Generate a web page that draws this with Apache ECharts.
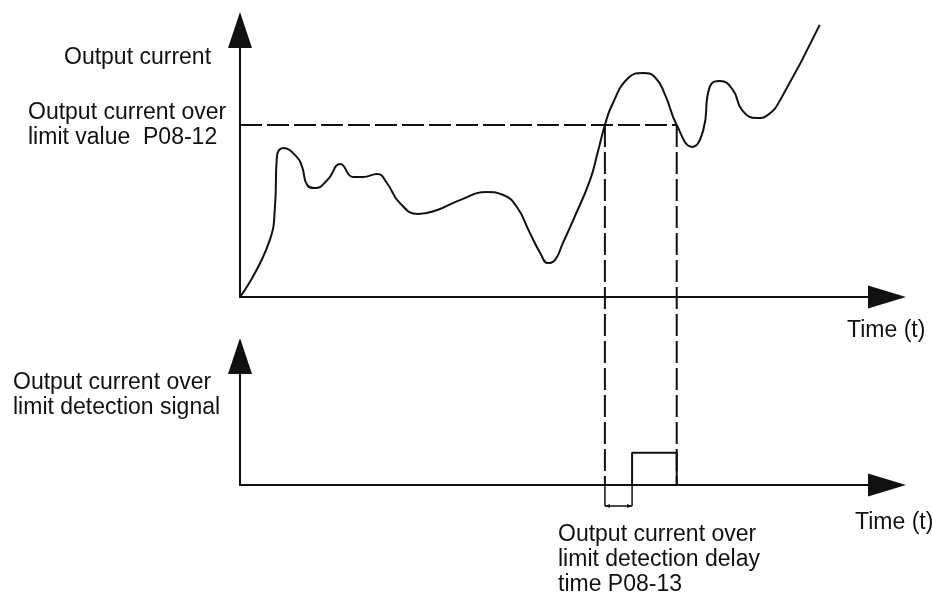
<!DOCTYPE html>
<html>
<head>
<meta charset="utf-8">
<script src="https://cdn.jsdelivr.net/npm/echarts@6/dist/echarts.min.js"></script>
<style>
  html, body { margin: 0; padding: 0; background: #fff; }
  #chart { width: 933px; height: 598px; }
</style>
</head>
<body>
<div id="chart"></div>
<script>
// Output current over time (arbitrary units, 0-100 on both axes)
const currentTime = [0, 4.6, 5.4, 5.7, 6.7, 8.8, 9.6, 10.4, 11.6, 13.5, 15.5, 17.5, 19.0, 21.2, 22.7, 24.7, 27.5, 30.5, 34.0, 38.2, 40.7, 42.8, 44.8, 46.4, 47.6, 48.7, 49.9, 51.5, 54.1, 55.3, 56.4, 57.5, 60.0, 62.3, 64.1, 65.7, 67.5, 69.9, 71.6, 72.6, 74.2, 76.2, 77.6, 79.9, 81.6, 83.5, 89.6];
const currentValue = [0, 21.3, 33.7, 52.4, 55.8, 52.4, 48.7, 41.9, 40.8, 43.8, 49.8, 44.9, 44.9, 46.1, 42.7, 35.2, 31.1, 32.6, 36.3, 39.3, 38.2, 33.7, 24.0, 16.5, 12.7, 13.9, 20.2, 28.8, 43.8, 54.3, 64.4, 71.9, 82.0, 83.9, 82.4, 75.7, 64.4, 56.2, 62.5, 78.7, 80.9, 77.5, 70.0, 67.0, 68.2, 73.8, 101.9];

// Over-limit level (P08-12) and the times the current crosses it
const limitValue = 64.4;
const crossUp = 56.4;
const crossDown = 67.5;

// Detection signal: rises after the delay (P08-13), falls when current drops below the limit
const signalTime = [60.6, 60.6, 67.5, 67.5];
const signalValue = [0, 1, 1, 0];

const FONT = '"Liberation Sans", Arial, sans-serif';
const INK = '#111';

function pairs(xs, ys) { return xs.map((x, i) => [x, ys[i]]); }

function axisX(gridIndex) {
  return {
    type: 'value', gridIndex, min: 0, max: 100,
    axisLine: { show: true, onZero: false, symbol: ['none', 'triangle'], symbolSize: [23, 38],
      lineStyle: { color: INK, width: 2 } },
    axisTick: { show: false }, axisLabel: { show: false }, splitLine: { show: false }
  };
}
function axisY(gridIndex, max) {
  return {
    type: 'value', gridIndex, min: 0, max,
    axisLine: { show: true, onZero: false, symbol: ['none', 'triangle'], symbolSize: [24, 36],
      lineStyle: { color: INK, width: 2 } },
    axisTick: { show: false }, axisLabel: { show: false }, splitLine: { show: false }
  };
}

const chart = echarts.init(document.getElementById('chart'), null, { renderer: 'canvas' });

chart.setOption({
  backgroundColor: '#fff',
  animation: false,
  grid: [
    { left: 240, right: 46, top: 30, bottom: 301 },
    { left: 240, right: 46, top: 356, bottom: 113 }
  ],
  xAxis: [axisX(0), axisX(1)],
  yAxis: [axisY(0, 100), axisY(1, 4)],
  series: [
    {
      type: 'line', xAxisIndex: 0, yAxisIndex: 0, clip: false,
      data: pairs(currentTime, currentValue), smooth: 0.5, symbol: 'none',
      lineStyle: { color: INK, width: 2 }, z: 3
    },
    {
      type: 'line', xAxisIndex: 0, yAxisIndex: 0,
      data: [[0, limitValue], [crossDown, limitValue]], symbol: 'none',
      lineStyle: { color: INK, width: 2, type: [22, 5] }, z: 2
    },
    {
      type: 'line', xAxisIndex: 1, yAxisIndex: 1,
      data: pairs(signalTime, signalValue), symbol: 'none',
      lineStyle: { color: INK, width: 2 }, z: 3
    }
  ]
});

// Guide lines and the delay bracket, placed through both grids' scales
const topLimitUp = chart.convertToPixel({ xAxisIndex: 0, yAxisIndex: 0 }, [crossUp, limitValue]);
const topLimitDown = chart.convertToPixel({ xAxisIndex: 0, yAxisIndex: 0 }, [crossDown, limitValue]);
const baseUp = chart.convertToPixel({ xAxisIndex: 1, yAxisIndex: 1 }, [crossUp, 0]);
const baseDown = chart.convertToPixel({ xAxisIndex: 1, yAxisIndex: 1 }, [crossDown, 0]);
const riseBase = chart.convertToPixel({ xAxisIndex: 1, yAxisIndex: 1 }, [signalTime[0], 0]);
const bracketY = baseUp[1] + 21;

const dashStyle = { stroke: INK, lineWidth: 2, lineDash: [22, 5] };
const solidStyle = { stroke: INK, lineWidth: 1.5 };

function text(x, y, str) {
  return {
    type: 'text', x, y, silent: true,
    style: { text: str, fill: INK, font: '23px ' + FONT, lineHeight: 25, verticalAlign: 'top', align: 'left' }
  };
}

chart.setOption({
  graphic: [
    { type: 'line', shape: { x1: topLimitUp[0], y1: topLimitUp[1], x2: baseUp[0], y2: baseUp[1] }, style: dashStyle },
    { type: 'line', shape: { x1: topLimitDown[0], y1: topLimitDown[1], x2: baseDown[0], y2: baseDown[1] }, style: dashStyle },
    { type: 'line', shape: { x1: baseUp[0], y1: baseUp[1], x2: baseUp[0], y2: bracketY }, style: solidStyle },
    { type: 'line', shape: { x1: riseBase[0], y1: riseBase[1], x2: riseBase[0], y2: bracketY }, style: solidStyle },
    { type: 'line', shape: { x1: baseUp[0], y1: bracketY, x2: riseBase[0], y2: bracketY }, style: solidStyle },
    { type: 'polygon', shape: { points: [[baseUp[0], bracketY], [baseUp[0] + 5, bracketY - 2], [baseUp[0] + 5, bracketY + 2]] }, style: { fill: INK } },
    { type: 'polygon', shape: { points: [[riseBase[0], bracketY], [riseBase[0] - 5, bracketY - 2], [riseBase[0] - 5, bracketY + 2]] }, style: { fill: INK } },

    text(64, 45, 'Output current'),
    text(28, 100, 'Output current over\nlimit value  P08-12'),
    text(847, 318, 'Time (t)'),
    text(13, 370, 'Output current over\nlimit detection signal'),
    text(855, 510, 'Time (t)'),
    text(558, 522, 'Output current over\nlimit detection delay\ntime P08-13')
  ]
});
</script>
</body>
</html>
